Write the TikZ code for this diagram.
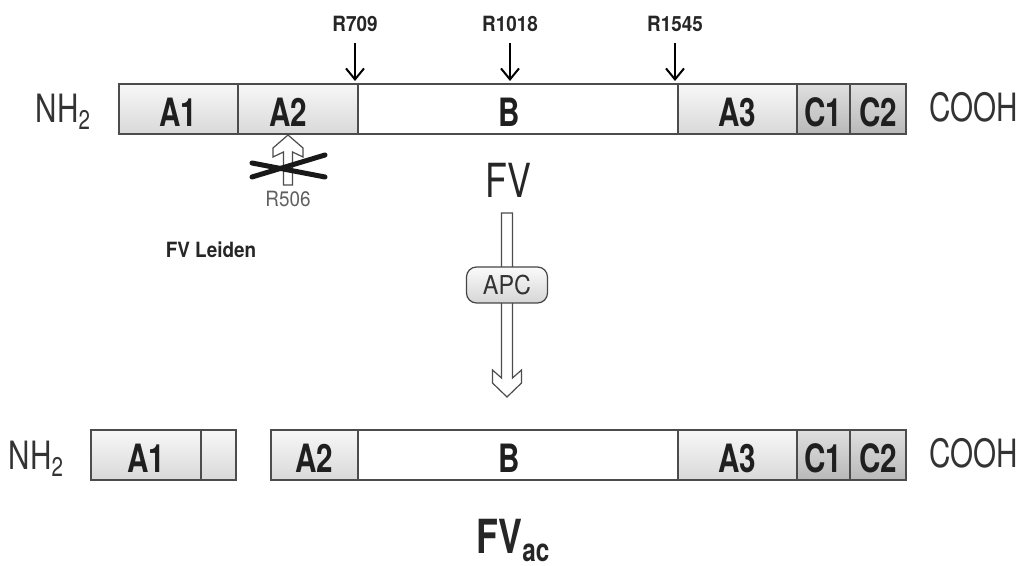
\documentclass[tikz,border=0pt]{standalone}
\usepackage{fontspec}
\setmainfont{TeX Gyre Heros}[FakeStretch=0.9]
\newfontfamily\condfont{TeX Gyre Heros}[FakeStretch=0.76]
\usetikzlibrary{arrows.meta,positioning,calc}

\begin{document}
\begin{tikzpicture}[
        x=0.5pt, y=-0.5pt,
        node distance=0pt,
        seg/.style={
            draw=gray!60!black,
            line width=0.6pt,
            outer sep=0pt,
            inner sep=0pt,
            minimum height=25pt,
            text height=17.5pt,
            text depth=0pt,
            font=\condfont\bfseries\fontsize{19.5}{21}\selectfont,
            text=black!88
        },
        aseg/.style={seg, top color=gray!6, bottom color=gray!30},
        bseg/.style={seg, fill=white},
        cseg/.style={seg, top color=gray!25, bottom color=gray!55},
        segLabel/.style={
            inner sep=0pt,
            text height=17.5pt,
            text depth=0pt,
            font=\condfont\bfseries\fontsize{19.5}{21}\selectfont,
            text=black!88
        },
        terminus/.style={
            anchor=base,
            font=\condfont\fontsize{19.5}{21}\selectfont,
            text=black!80
        },
        site/.style={
            anchor=base,
            font=\bfseries\fontsize{10.5}{12}\selectfont,
            text=black!85
        },
        cut/.style={
            -{Straight Barb[length=5.5pt,width=9pt,line width=1pt]},
            line width=0.9pt,
            shorten <=2pt,
            shorten >=1.5pt
        },
        hollow/.style={
            draw=gray!60!black,
            fill=white,
            line width=0.6pt,
            line join=miter
        },
        cross/.style={
            line width=2.5pt,
            line cap=round,
            draw=black!90
        },
        apcBox/.style={
            draw=gray!55!black,
            line width=0.6pt,
            rounded corners=5pt,
            top color=gray!4,
            bottom color=gray!32,
            minimum width=40.5pt,
            minimum height=18pt,
            inner sep=0pt,
            font=\fontsize{13}{14}\selectfont,
            text=black!80
        }
    ]

        \fill[white] (0,0) rectangle (1024,566);
        \useasboundingbox (0,0) rectangle (1024,566);

        % Factor V chain
        \node[aseg, minimum width=59.5pt, anchor=north west] (a1) at (119,84) {A1};
        \node[aseg, minimum width=60pt, right=of a1,
              label={[segLabel, xshift=-5pt]center:A2}] (a2) {};
        \node[bseg, minimum width=160pt, right=of a2,
              label={[segLabel, xshift=-4.5pt]center:B}] (b) {};
        \node[aseg, minimum width=59.5pt, right=of b] (a3) {A3};
        \node[cseg, minimum width=26.5pt, right=of a3] (c1) {C1};
        \node[cseg, minimum width=28pt, right=of c1] (c2) {C2};

        \node[terminus] (nhTop) at (63,123) {NH{\fontsize{13.5}{14}\selectfont\raisebox{-3.5pt}{2}}};
        \node[terminus] (coohTop) at (974,122) {COOH};

        % Cleavage sites
        \node[site] (r709) at (355,32) {R709};
        \node[site] (r1018) at (510,32) {R1018};
        \node[site] (r1545) at (675,32) {R1545};

        \foreach \siteName in {r709,r1018,r1545}
        {
            \draw[cut] (\siteName) -- (\siteName |- b.north);
        }

        % Blocked site (FV Leiden)
        \begin{scope}[shift={($(a2.south)+(-10,1)$)}]
            \draw[hollow] (0,0) -- (15,13) -- (15,22) -- (4.5,17) -- (4.5,50)
                -- (-4.5,50) -- (-4.5,17) -- (-15,22) -- (-15,13) -- cycle;
            \draw[cross] (-36,28) -- (37,42);
            \draw[cross] (-36,42) -- (37,20);
            \node[anchor=base, font=\fontsize{10.5}{12}\selectfont,
                  text=gray!75!black] (r506) at (0,72) {R506};
        \end{scope}

        \node[site] (leiden) at (211,258) {FV Leiden};

        \node[anchor=base, font=\condfont\fontsize{23.5}{25}\selectfont,
              text=black!85] (fv) at (508,198) {FV};

        % APC cleavage
        \coordinate (apcTip) at (507,397);
        \begin{scope}[shift={(apcTip)}]
            \draw[hollow] (-5.5,-184) -- (-5.5,-19) -- (-14.5,-27) -- (-14.5,-14)
                -- (0,0) -- (14.5,-14) -- (14.5,-27) -- (5.5,-19) -- (5.5,-184) -- cycle;
        \end{scope}
        \node[apcBox] (apc) at (507,285) {APC};

        % Activated factor V
        \node[aseg, minimum width=55pt, anchor=north west] (a1ac) at (91,430) {A1};
        \node[aseg, minimum width=17.5pt, right=of a1ac] (a1rest) {};
        \node[aseg, minimum width=43.5pt, anchor=north west] (a2ac) at (271,430) {A2};
        \node[bseg, minimum width=160pt, right=of a2ac,
              label={[segLabel, xshift=-4.5pt]center:B}] (bac) {};
        \node[aseg, minimum width=59.5pt, right=of bac] (a3ac) {A3};
        \node[cseg, minimum width=26.5pt, right=of a3ac] (c1ac) {C1};
        \node[cseg, minimum width=28pt, right=of c1ac] (c2ac) {C2};

        \node[terminus] (nhBot) at (36,470) {NH{\fontsize{13.5}{14}\selectfont\raisebox{-3.5pt}{2}}};
        \node[terminus] (coohBot) at (974,468) {COOH};

        \node[anchor=base, font=\condfont\bfseries\fontsize{23.5}{25}\selectfont,
              text=black!85] (fvac) at (513,554)
              {FV\raisebox{-4pt}{\fontsize{16}{16}\selectfont ac}};

    \end{tikzpicture}
\end{document}
